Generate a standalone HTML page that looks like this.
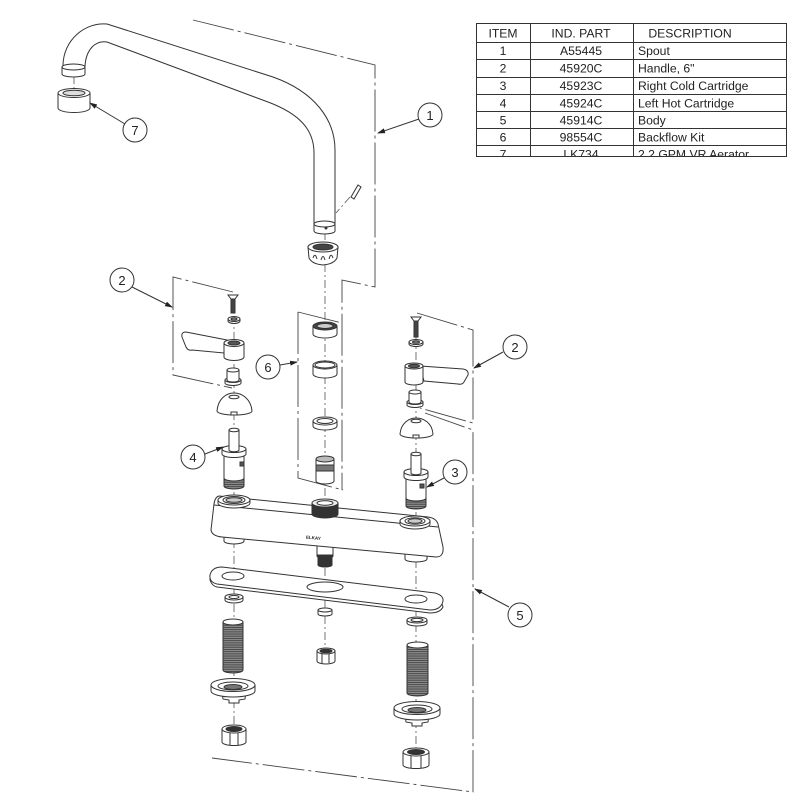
<!DOCTYPE html>
<html><head><meta charset="utf-8"><style>
html,body{margin:0;padding:0;background:#fff;}
svg{display:block;}
.t{font-family:"Liberation Sans",Arial,sans-serif;font-size:12.2px;fill:#222;}
.c{font-family:"Liberation Sans",Arial,sans-serif;font-size:13px;fill:#222;text-anchor:middle;}
</style></head><body>
<svg width="800" height="800" viewBox="0 0 800 800" xmlns="http://www.w3.org/2000/svg">
<defs>
<marker id="ar" markerWidth="8" markerHeight="6" refX="7" refY="3" orient="auto" markerUnits="userSpaceOnUse">
<path d="M0,0.5 L8,3 L0,5.5 Z" fill="#222"/></marker>
<pattern id="thr" width="4" height="2.2" patternUnits="userSpaceOnUse">
<rect width="4" height="2.2" fill="#8a8a8a"/><rect width="4" height="0.9" fill="#444"/></pattern>
</defs>
<rect width="800" height="800" fill="#fff"/>

<!-- TABLE -->
<g stroke="#333" stroke-width="1" fill="none">
<rect x="476.5" y="23.5" width="310" height="133"/>
<line x1="530.5" y1="23" x2="530.5" y2="157"/>
<line x1="633.5" y1="23" x2="633.5" y2="157"/>
<line x1="476" y1="42.5" x2="787" y2="42.5"/>
<line x1="476" y1="59.5" x2="787" y2="59.5"/>
<line x1="476" y1="77.5" x2="787" y2="77.5"/>
<line x1="476" y1="94.5" x2="787" y2="94.5"/>
<line x1="476" y1="111.5" x2="787" y2="111.5"/>
<line x1="476" y1="128.5" x2="787" y2="128.5"/>
<line x1="476" y1="145.5" x2="787" y2="145.5"/>
</g>
<g class="t">
<text x="503" y="37.5" text-anchor="middle">ITEM</text>
<text x="581" y="37.5" text-anchor="middle">IND. PART</text>
<text x="690" y="37.5" text-anchor="middle">DESCRIPTION</text>
<text x="503" y="55" text-anchor="middle">1</text><text x="581" y="55" text-anchor="middle">A55445</text><text x="638" y="55">Spout</text>
<text x="503" y="72.5" text-anchor="middle">2</text><text x="581" y="72.5" text-anchor="middle">45920C</text><text x="638" y="72.5">Handle, 6"</text>
<text x="503" y="90" text-anchor="middle">3</text><text x="581" y="90" text-anchor="middle">45923C</text><text x="638" y="90">Right Cold Cartridge</text>
<text x="503" y="107.5" text-anchor="middle">4</text><text x="581" y="107.5" text-anchor="middle">45924C</text><text x="638" y="107.5">Left Hot Cartridge</text>
<text x="503" y="124.5" text-anchor="middle">5</text><text x="581" y="124.5" text-anchor="middle">45914C</text><text x="638" y="124.5">Body</text>
<text x="503" y="141.5" text-anchor="middle">6</text><text x="581" y="141.5" text-anchor="middle">98554C</text><text x="638" y="141.5">Backflow Kit</text>
<text x="503" y="158.5" text-anchor="middle">7</text><text x="581" y="158.5" text-anchor="middle">LK734</text><text x="638" y="158.5">2.2 GPM VR Aerator</text>
</g>
<rect x="470" y="157" width="330" height="8" fill="#fff"/>
<line x1="476" y1="156.5" x2="787" y2="156.5" stroke="#333" stroke-width="1"/>

<!-- DASHED PHANTOM BOXES -->
<g stroke="#444" stroke-width="0.9" fill="none" stroke-dasharray="42,4,3,4">
<polyline points="193,20 375,65 375,287 342,280 342,490"/>
<polyline points="298,312 342,323"/>
<polyline points="298,312 298,478 343,490"/>
<polyline points="233,292 173,277 173,375 232,388"/>
<polyline points="417,313 473,330 473,423 420,408"/>
<polyline points="425,413 473,430 473,792 212,758"/>
</g>

<!-- CENTERLINES -->
<g stroke="#555" stroke-width="0.8" fill="none" stroke-dasharray="8,3,2,3">
<line x1="74" y1="76" x2="74" y2="92"/>
<line x1="234" y1="300" x2="234" y2="745"/>
<line x1="325" y1="232" x2="325" y2="662"/>
<line x1="416" y1="320" x2="416" y2="768"/>
<line x1="350" y1="197" x2="336" y2="213"/>
</g>

<!-- SPOUT -->
<g stroke="#333" stroke-width="1" fill="#fff">
<path d="M63 66 C63 40 85 22 107 24 L273 77 C315 92 335 120 335 150 L335 225 L314 225 L314 153 C314 130 300 114 268 102 L107 42 C95 40 86 50 85 66 Z"/>
<path d="M62 67 L62 74 A11.5 3 0 0 0 85 74 L85 67 Z"/>
<ellipse cx="73.5" cy="67" rx="11.5" ry="3"/>
<path d="M314 224 L314 231 A10.5 3 0 0 0 335 231 L335 224 Z"/>
<ellipse cx="324.5" cy="224" rx="10.5" ry="3"/>
<circle cx="326" cy="228" r="1" fill="#333"/>
<path d="M351 197 L358 185 L361 187 L354 199 Z" fill="#fff"/>
<path d="M58 93 L58 108 A16 4.5 0 0 0 90 108 L90 93 Z"/>
<ellipse cx="74" cy="93" rx="16" ry="4.5"/>
<ellipse cx="74" cy="93" rx="11" ry="2.8" fill="#ddd"/>
</g>

<!-- SPOUT NUT -->
<g stroke="#333" stroke-width="1" fill="#fff">
<path d="M308 247 L309 258 Q312 264 323 265 Q334 264 337 258 L338 247 Z"/>
<ellipse cx="323" cy="247" rx="15" ry="5"/>
<ellipse cx="323" cy="247" rx="10" ry="3" fill="#444"/>
<path d="M313 258 Q315 252 317 259 M321 260 Q323 253 325 260 M329 259 Q331 252 333 258" fill="none"/>
</g>

<!-- LEFT HANDLE GROUP -->
<g stroke="#333" stroke-width="1" fill="#fff">
<polygon points="228,295 238,295 235,299 231,299"/>
<rect x="231" y="299" width="4" height="14" fill="#444"/>
<path d="M228 319 L228 321 A6 2.5 0 0 0 240 321 L240 319 Z"/>
<ellipse cx="234" cy="319" rx="6" ry="2.5"/>
<ellipse cx="234" cy="319" rx="3" ry="1.2" fill="#888"/>
<path d="M227 340 L186 332 Q181 332 182 337 L186 347 Q188 351 192 350 L224 353 Z"/>
<path d="M224 343 L224 357 A10 3.5 0 0 0 244 357 L244 343 Z"/>
<ellipse cx="234" cy="343" rx="10" ry="3.5"/>
<ellipse cx="234" cy="343" rx="6" ry="2" fill="#555"/>
<path d="M225 380 L225 383 A8 2.5 0 0 0 241 383 L241 380 Z"/>
<ellipse cx="233" cy="380" rx="8" ry="2.5"/>
<path d="M227 370 L227 380 A6 2 0 0 0 239 380 L239 370 Z"/>
<ellipse cx="233" cy="370" rx="6" ry="2"/>
<path d="M217 411 C218 399 226 393 234 393 C242 393 251 399 252 411 A17.5 4 0 0 1 217 411 Z"/>
<ellipse cx="234" cy="397" rx="5" ry="1.8"/>
<rect x="231" y="412" width="6" height="3"/>
<path d="M224 478 L224 486 A10 3 0 0 0 244 486 L244 478 Z" fill="url(#thr)"/>
<path d="M224 454 L224 478 A10 3 0 0 0 244 478 L244 454 Z"/>
<path d="M222 449 L222 454 A12 3.5 0 0 0 246 454 L246 449 Z"/>
<ellipse cx="234" cy="449" rx="12" ry="3.5"/>
<path d="M229 430 L229 450 A5 1.8 0 0 0 239 450 L239 430 Z"/>
<ellipse cx="234" cy="430" rx="5" ry="1.8"/>
<rect x="240" y="462" width="4" height="4" fill="#555"/>
</g>

<!-- BACKFLOW KIT -->
<g stroke="#333" stroke-width="1" fill="#fff">
<path d="M313 326 L313 334 A12 4 0 0 0 337 334 L337 326 Z"/>
<ellipse cx="325" cy="326" rx="12" ry="4" fill="#444"/>
<ellipse cx="325" cy="326" rx="8" ry="2.5" fill="#ccc"/>
<path d="M313 365 L313 374 A12 4 0 0 0 337 374 L337 365 Z"/>
<ellipse cx="325" cy="365" rx="12" ry="4"/>
<ellipse cx="325" cy="365" rx="10" ry="3" fill="none"/>
<path d="M313 421 L313 426 A12 4 0 0 0 337 426 L337 421 Z"/>
<ellipse cx="325" cy="421" rx="12" ry="4"/>
<ellipse cx="325" cy="421" rx="8" ry="2.5"/>
<path d="M316 459 L316 481 A9 3 0 0 0 334 481 L334 459 Z"/>
<rect x="316" y="465" width="18" height="6" fill="#777"/>
<ellipse cx="325" cy="459" rx="9" ry="3" fill="#bbb"/>
</g>

<!-- RIGHT HANDLE GROUP -->
<g stroke="#333" stroke-width="1" fill="#fff">
<polygon points="411,317 421,317 418,321 414,321"/>
<rect x="414" y="321" width="4" height="16" fill="#444"/>
<path d="M409 342 L409 344 A7 2.5 0 0 0 423 344 L423 342 Z"/>
<ellipse cx="416" cy="342" rx="7" ry="2.5"/>
<ellipse cx="416" cy="342" rx="3.5" ry="1.2" fill="#888"/>
<path d="M420 366 L463 369 Q469 370 468 375 L464 382 Q462 385 458 384 L424 381 Z"/>
<path d="M405 366 L405 382 A9 3 0 0 0 423 382 L423 366 Z"/>
<ellipse cx="414" cy="366" rx="9" ry="3"/>
<ellipse cx="414" cy="366" rx="5.5" ry="1.8" fill="#555"/>
<path d="M407 402 L407 405 A8 2.5 0 0 0 423 405 L423 402 Z"/>
<ellipse cx="415" cy="402" rx="8" ry="2.5"/>
<path d="M409 392 L409 402 A6 2 0 0 0 421 402 L421 392 Z"/>
<ellipse cx="415" cy="392" rx="6" ry="2"/>
<path d="M400 434 C401 423 409 418 416 418 C424 418 432 423 433 434 A16.5 4 0 0 1 400 434 Z"/>
<ellipse cx="416" cy="421" rx="5" ry="1.8"/>
<rect x="413" y="435" width="6" height="3"/>
<path d="M406 498 L406 506 A10 3 0 0 0 426 506 L426 498 Z" fill="url(#thr)"/>
<path d="M406 476 L406 498 A10 3 0 0 0 426 498 L426 476 Z"/>
<path d="M404 472 L404 477 A12 3.5 0 0 0 428 477 L428 472 Z"/>
<ellipse cx="416" cy="472" rx="12" ry="3.5"/>
<path d="M411 454 L411 473 A5 1.8 0 0 0 421 473 L421 454 Z"/>
<ellipse cx="416" cy="454" rx="5" ry="1.8"/>
<rect x="420" y="484" width="4" height="4" fill="#555"/>
</g>

<!-- BODY -->
<g stroke="#333" stroke-width="1" fill="#fff">
<path d="M224 537 L224 541 A10 3 0 0 0 244 541 L244 537 Z"/>
<path d="M405 554 L405 559 A11 3 0 0 0 427 559 L427 554 Z"/>
<path d="M317 546 L317 556 A8 2.5 0 0 0 333 556 L333 546 Z"/>
<path d="M318 555 L318 565 A7 2 0 0 0 332 565 L332 555 Z" fill="#333"/>
<path d="M219 496 L428 517 Q436 518 438 524 L443 547 Q444 557 436 557 L222 537 Q212 536 211 530 L214 504 Q215 497 219 496 Z"/>
<path d="M214 505 L438 527" fill="none"/>
<path d="M218 500 L218 503 A16 5 0 0 0 250 503 L250 500 Z"/>
<ellipse cx="234" cy="500" rx="16" ry="5"/>
<ellipse cx="234" cy="500" rx="11" ry="3.5"/>
<ellipse cx="234" cy="500" rx="8" ry="2.3" fill="#ccc"/>
<path d="M400 521 L400 524 A15 5 0 0 0 430 524 L430 521 Z"/>
<ellipse cx="415" cy="521" rx="15" ry="5"/>
<ellipse cx="415" cy="521" rx="10" ry="3.3"/>
<ellipse cx="415" cy="521" rx="7" ry="2.2" fill="#ccc"/>
<path d="M312 503 L312 514 A13 4 0 0 0 338 514 L338 503 Z" fill="#333"/>
<ellipse cx="325" cy="503" rx="13" ry="4" fill="#eee"/>
<ellipse cx="325" cy="503" rx="8" ry="2.3" fill="#fff"/>
</g>
<text x="306" y="539" font-family="Liberation Sans, sans-serif" font-size="4.5" font-weight="bold" fill="#222" transform="rotate(6 310 537)">ELKAY</text>

<!-- GASKET PLATE -->
<g stroke="#333" stroke-width="1" fill="#fff">
<path d="M210 577 L210 580 Q212 586 217 587 L430 613 Q440 613 443 607 L442 604"/>
<path d="M222 567 L435 593 Q446 596 442 604 Q439 610 430 610 L217 584 Q209 582 210 575 Q212 567 222 567 Z"/>
<ellipse cx="233" cy="576" rx="11" ry="4"/>
<ellipse cx="325" cy="587" rx="18" ry="5"/>
<ellipse cx="416" cy="599" rx="11" ry="4"/>
</g>

<!-- BELOW PLATE -->
<g stroke="#333" stroke-width="1" fill="#fff">
<path d="M225 597 L225 600 A9 3 0 0 0 243 600 L243 597 Z"/>
<ellipse cx="234" cy="597" rx="9" ry="3"/>
<ellipse cx="234" cy="597" rx="5" ry="1.5"/>
<path d="M223 622 L223 670 A10 3 0 0 0 243 670 L243 622 Z" fill="url(#thr)"/>
<ellipse cx="233" cy="622" rx="10" ry="3"/>
<path d="M222 691 L223 699 L229 700 L229 703 L239 703 L239 700 L245 699 L246 691 Z"/>
<path d="M211 685 L211 691 A22 6 0 0 0 255 691 L255 685 Z"/>
<ellipse cx="233" cy="685" rx="22" ry="6.5"/>
<ellipse cx="233" cy="686" rx="15" ry="4"/>
<ellipse cx="233" cy="687" rx="9" ry="2.5" fill="#777"/>
<path d="M222 729 L222 742 A12 3.5 0 0 0 246 742 L246 729 Z"/>
<line x1="230" y1="732" x2="230" y2="745"/><line x1="238" y1="732" x2="238" y2="745"/>
<ellipse cx="234" cy="729" rx="12" ry="4"/>
<ellipse cx="234" cy="729" rx="8" ry="2.5" fill="#333"/>
<path d="M318 610 L318 614 A7 2 0 0 0 332 614 L332 610 Z"/>
<ellipse cx="325" cy="610" rx="7" ry="2"/>
<path d="M317 651 L317 661 A9 3 0 0 0 335 661 L335 651 Z"/>
<line x1="322" y1="653" x2="322" y2="663"/><line x1="329" y1="653" x2="329" y2="663"/>
<ellipse cx="326" cy="651" rx="9" ry="3"/>
<ellipse cx="326" cy="651" rx="6" ry="1.8" fill="#333"/>
<path d="M407 620 L407 623 A10 3 0 0 0 427 623 L427 620 Z"/>
<ellipse cx="417" cy="620" rx="10" ry="3"/>
<ellipse cx="417" cy="620" rx="6" ry="1.6"/>
<path d="M407 645 L407 693 A10.5 3 0 0 0 428 693 L428 645 Z" fill="url(#thr)"/>
<ellipse cx="417.5" cy="645" rx="10.5" ry="3"/>
<path d="M405 714 L406 722 L412 723 L412 726 L422 726 L422 723 L428 722 L429 714 Z"/>
<path d="M394 708 L394 714 A23 6 0 0 0 440 714 L440 708 Z"/>
<ellipse cx="417" cy="708" rx="23" ry="6.5"/>
<ellipse cx="417" cy="709" rx="15" ry="4"/>
<ellipse cx="417" cy="710" rx="9" ry="2.5" fill="#777"/>
<path d="M403 752 L403 765 A13 3.5 0 0 0 429 765 L429 752 Z"/>
<line x1="411" y1="755" x2="411" y2="768"/><line x1="421" y1="755" x2="421" y2="768"/>
<ellipse cx="416" cy="752" rx="13" ry="4"/>
<ellipse cx="416" cy="752" rx="8.5" ry="2.5" fill="#333"/>
</g>

<!-- CALLOUTS -->
<g stroke="#333" stroke-width="1" fill="none">
<line x1="419" y1="119" x2="378" y2="133" marker-end="url(#ar)"/>
<line x1="125" y1="124" x2="90" y2="103" marker-end="url(#ar)"/>
<line x1="132" y1="287" x2="172" y2="307" marker-end="url(#ar)"/>
<line x1="280" y1="365" x2="297" y2="362" marker-end="url(#ar)"/>
<line x1="205" y1="454" x2="223" y2="447" marker-end="url(#ar)"/>
<line x1="503" y1="352" x2="474" y2="368" marker-end="url(#ar)"/>
<line x1="444" y1="478" x2="427" y2="487" marker-end="url(#ar)"/>
<line x1="509" y1="607" x2="475" y2="589" marker-end="url(#ar)"/>
<circle cx="430" cy="115" r="12"/>
<circle cx="135" cy="130" r="12"/>
<circle cx="122" cy="280" r="12"/>
<circle cx="268" cy="367" r="12"/>
<circle cx="193" cy="457" r="12"/>
<circle cx="515" cy="347" r="12"/>
<circle cx="455" cy="472" r="12"/>
<circle cx="520" cy="615" r="12"/>
</g>
<g class="c">
<text x="430" y="120">1</text>
<text x="135" y="135">7</text>
<text x="122" y="285">2</text>
<text x="268" y="372">6</text>
<text x="193" y="462">4</text>
<text x="515" y="352">2</text>
<text x="455" y="477">3</text>
<text x="520" y="620">5</text>
</g>
</svg>
</body></html>
